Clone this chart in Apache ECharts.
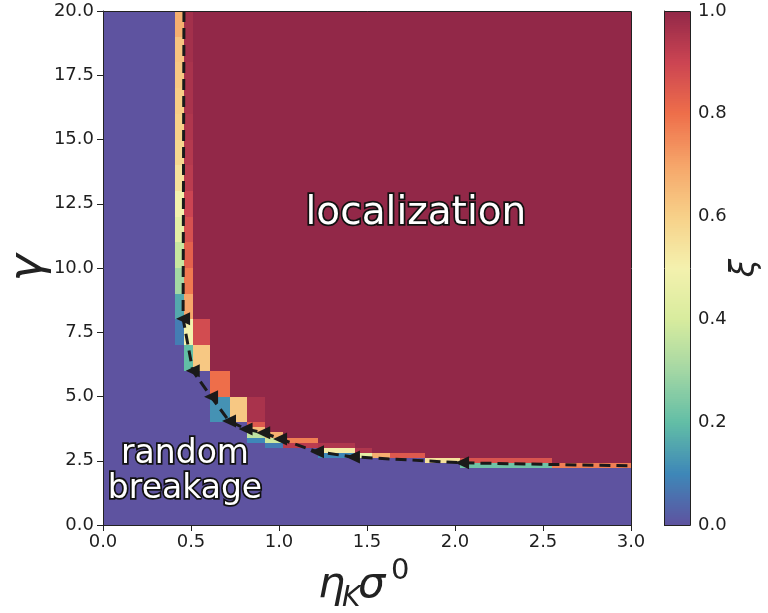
<!DOCTYPE html>
<html><head><meta charset="utf-8">
<script src="https://cdn.jsdelivr.net/npm/echarts@6/dist/echarts.min.js"></script>
<style>html,body{margin:0;padding:0;background:#fff}#c{width:768px;height:613px}</style>
</head><body><div id="c"></div>
<script>
// ---- data ----
const xEdges = [0, 0.41, 0.46, 0.51, 0.61, 0.72, 0.82, 0.92, 1.02, 1.22, 1.43, 1.53, 1.63, 1.83, 2.03, 2.55, 3.0];
const purpleTop = [20, 7, 6, 6, 4, 4, 3.2, 3.0, 3.0, 2.6, 2.6, 2.6, 2.6, 2.4, 2.2, 2.2];
const col1Xi = [0.08, 0.16, 0.30, 0.37, 0.45, 0.50, 0.55, 0.58, 0.60, 0.61, 0.62, 0.63, 0.68];
const col2Xi = [0.20, 0.50, 0.70, 0.78, 0.83, 0.87, 0.90, 0.93, 0.94, 0.95, 0.96, 0.96, 0.97, 0.97];
const otherCells = [
  [3, 6, 7, 0.62], [3, 7, 8, 0.88],
  [4, 4, 5, 0.12], [4, 5, 6, 0.80],
  [5, 4, 5, 0.62],
  [6, 3.2, 3.4, 0.10], [6, 3.4, 3.6, 0.35], [6, 3.6, 3.8, 0.65], [6, 3.8, 4.0, 0.85], [6, 4.0, 5.0, 0.96],
  [7, 3.0, 3.2, 0.08], [7, 3.2, 3.4, 0.38], [7, 3.4, 3.6, 0.68],
  [8, 3.0, 3.2, 0.93], [8, 3.2, 3.4, 0.77],
  [9, 2.6, 2.8, 0.10], [9, 2.8, 3.0, 0.52], [9, 3.0, 3.2, 0.95],
  [10, 2.6, 2.8, 0.45], [10, 2.8, 3.0, 0.95],
  [11, 2.6, 2.8, 0.68],
  [12, 2.6, 2.8, 0.85],
  [13, 2.4, 2.6, 0.55],
  [14, 2.2, 2.4, 0.22], [14, 2.4, 2.6, 0.86],
  [15, 2.2, 2.4, 0.77]
];
const lineEta   = [0.46, 0.455, 0.51, 0.614, 0.716, 0.81, 0.91, 1.006, 1.216, 1.42, 2.04, 3.0];
const lineGamma = [20,   8.03,  6.0,  4.99,  4.05,  3.74, 3.59, 3.35,  2.85,  2.65, 2.42, 2.3];
const cmap = ['#5e53a0', '#3e87b8', '#62bea6', '#a4d7a4', '#d8ec9e', '#f4f1ae', '#f7d189', '#f6a66a', '#ee6e4a', '#cb4452', '#922848'];

// ---- build cells ----
const trans = otherCells
  .concat(col1Xi.map((v, i) => [1, purpleTop[1] + i, purpleTop[1] + i + 1, v]))
  .concat(col2Xi.map((v, i) => [2, purpleTop[2] + i, purpleTop[2] + i + 1, v]));
const cells = [];
for (let c = 0; c < xEdges.length - 1; c++) {
  const x0 = xEdges[c], x1 = xEdges[c + 1];
  if (purpleTop[c] > 0) cells.push([x0, x1, 0, purpleTop[c], 0]);
  let top = purpleTop[c];
  trans.filter(t => t[0] === c).forEach(t => { cells.push([x0, x1, t[1], t[2], t[3]]); top = Math.max(top, t[2]); });
  if (top < 20) cells.push([x0, x1, top, 20, 1]);
}
const cbData = [];
for (let i = 0; i < 256; i++) cbData.push([0, 1, i / 256, (i + 1) / 256, (i + 0.5) / 256]);

function renderRect(params, api) {
  const p0 = api.coord([api.value(0), api.value(3)]);
  const p1 = api.coord([api.value(1), api.value(2)]);
  const x = Math.round(p0[0]), y = Math.round(p0[1]);
  return { type: 'rect', shape: { x: x, y: y, width: Math.round(p1[0]) - x, height: Math.round(p1[1]) - y },
    style: { fill: api.visual('color') } };
}

const FONT = 'DejaVu Sans';
const G = { left: 103, top: 11, width: 528, height: 514 };
const CB = { left: 664, top: 11, width: 26, height: 514 };
function axisCommon(margin) {
  return {
    axisLine: { show: true, lineStyle: { color: '#222', width: 1 } },
    axisTick: { show: true, length: 6, lineStyle: { color: '#222', width: 1 } },
    axisLabel: { fontFamily: FONT, fontSize: 18, color: '#1e1e1e', margin: margin, formatter: v => v.toFixed(1) },
    splitLine: { show: false }
  };
}

const chart = echarts.init(document.getElementById('c'));
chart.setOption({
  animation: false,
  grid: [Object.assign({}, G), Object.assign({}, CB)],
  xAxis: [
    Object.assign({ type: 'value', gridIndex: 0, min: 0, max: 3, interval: 0.5 }, axisCommon(8)),
    { type: 'value', gridIndex: 1, min: 0, max: 1, show: false }
  ],
  yAxis: [
    Object.assign({ type: 'value', gridIndex: 0, min: 0, max: 20, interval: 2.5 }, axisCommon(9)),
    Object.assign({ type: 'value', gridIndex: 1, min: 0, max: 1, interval: 0.2, position: 'right' }, axisCommon(8))
  ],
  visualMap: { show: false, type: 'continuous', min: 0, max: 1, dimension: 4, seriesIndex: [0, 1], inRange: { color: cmap } },
  series: [
    { type: 'custom', xAxisIndex: 0, yAxisIndex: 0, renderItem: renderRect, data: cells, encode: { x: [0, 1], y: [2, 3] }, silent: true },
    { type: 'custom', xAxisIndex: 1, yAxisIndex: 1, renderItem: renderRect, data: cbData, encode: { x: [0, 1], y: [2, 3] }, silent: true },
    { type: 'line', xAxisIndex: 0, yAxisIndex: 0, z: 5, silent: true,
      data: lineEta.map((x, i) => ({ value: [x, lineGamma[i]], symbol: (i === 0 || i === lineEta.length - 1) ? 'none' : 'triangle' })),
      symbolSize: [13, 14], symbolRotate: 90, showAllSymbol: true,
      itemStyle: { color: '#1a1a1a' },
      lineStyle: { color: '#1a1a1a', width: 3, type: [11, 6] } }
  ]
});

const pLoc = chart.convertToPixel({ gridIndex: 0 }, [1.778, 12.1]);
const pRand = chart.convertToPixel({ gridIndex: 0 }, [0.466, 2.05]);
const txt = (props) => Object.assign({ type: 'text', z: 100, silent: true }, props);
chart.setOption({
  graphic: [
    { type: 'rect', z: 90, silent: true, shape: { x: G.left + 0.5, y: G.top + 0.5, width: G.width, height: G.height },
      style: { fill: 'none', stroke: '#222', lineWidth: 1 } },
    { type: 'rect', z: 90, silent: true, shape: { x: CB.left + 0.5, y: CB.top + 0.5, width: CB.width, height: CB.height },
      style: { fill: 'none', stroke: '#222', lineWidth: 1 } },
    txt({ style: { text: 'localization', x: pLoc[0], y: pLoc[1], align: 'center', verticalAlign: 'middle',
      font: '39px "DejaVu Sans"', fill: '#fff', stroke: '#111', lineWidth: 3.5, strokeFirst: true } }),
    txt({ style: { text: 'random\nbreakage', x: pRand[0], y: pRand[1], align: 'center', verticalAlign: 'middle', lineHeight: 35,
      font: '33px "DejaVu Sans"', fill: '#fff', stroke: '#111', lineWidth: 3.5, strokeFirst: true } }),
    // x label
    txt({ style: { text: 'η', x: 318, y: 607, align: 'left', verticalAlign: 'bottom', font: 'italic 43px "DejaVu Sans"', fill: '#222' } }),
    txt({ style: { text: 'K', x: 342, y: 613, align: 'left', verticalAlign: 'bottom', font: 'italic 28px "DejaVu Sans"', fill: '#222' } }),
    txt({ style: { text: 'σ', x: 358, y: 607, align: 'left', verticalAlign: 'bottom', font: 'italic 43px "DejaVu Sans"', fill: '#222' } }),
    txt({ style: { text: '0', x: 391, y: 586, align: 'left', verticalAlign: 'bottom', font: '29px "DejaVu Sans"', fill: '#222' } }),
    // y label
    txt({ x: 29, y: 268, rotation: Math.PI / 2, style: { text: 'γ', x: 0, y: 0, align: 'center', verticalAlign: 'middle', font: 'italic 46px "DejaVu Sans"', fill: '#222' } }),
    // colorbar label
    txt({ x: 745, y: 268, rotation: Math.PI / 2, style: { text: 'ξ', x: 0, y: 0, align: 'center', verticalAlign: 'middle', font: 'italic 33px "DejaVu Sans"', fill: '#222' } })
  ]
});
</script>
</body></html>
